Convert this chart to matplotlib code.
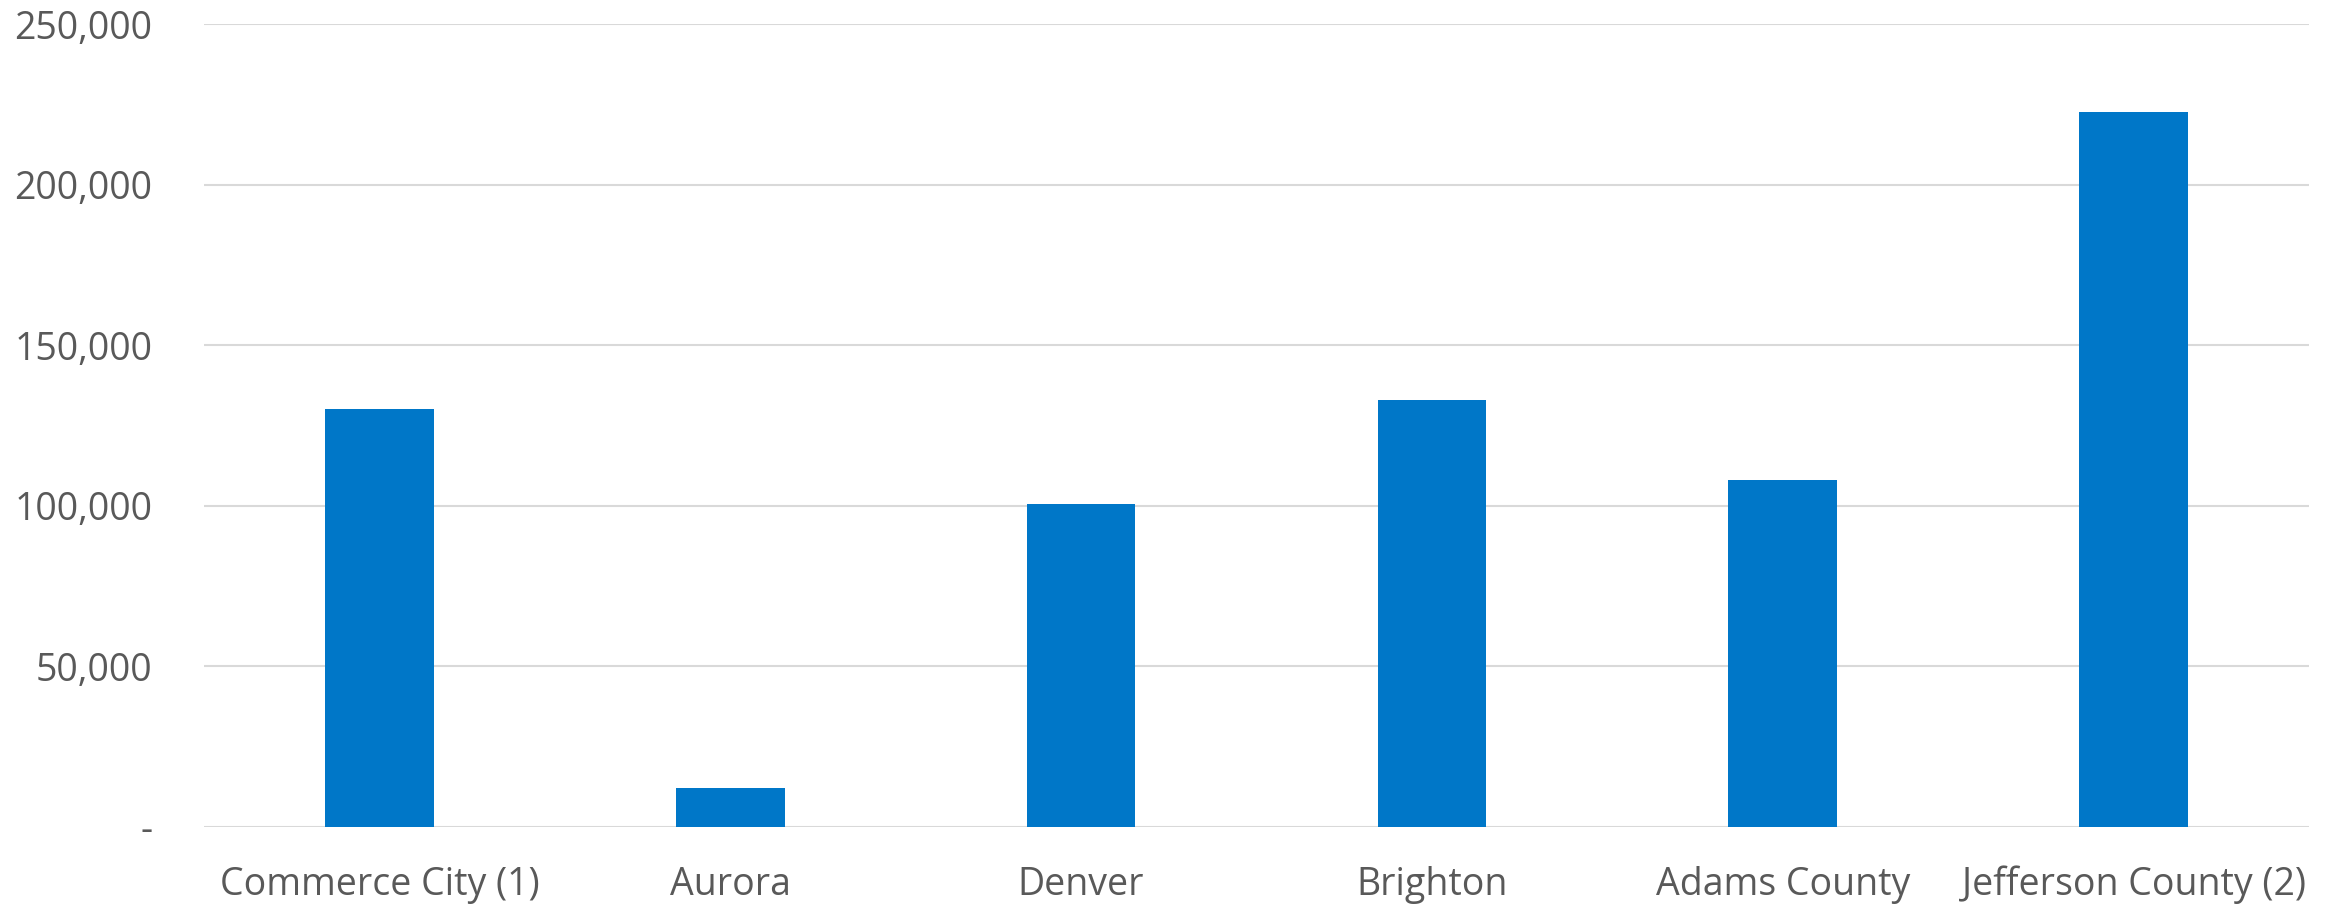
import matplotlib
matplotlib.use("Agg")
import matplotlib.pyplot as plt
from matplotlib.ticker import FuncFormatter

# values
places = ["Commerce City (1)", "Aurora", "Denver", "Brighton", "Adams County", "Jefferson County (2)"]
values = [130000, 12000, 100600, 133000, 108000, 222500]
yticks = [0, 50000, 100000, 150000, 200000, 250000]

plt.rcParams['font.family'] = ['Open Sans', 'DejaVu Sans']
grey = '#595959'

fig = plt.figure(figsize=(23.33, 9.07), dpi=100)
ax = fig.add_axes([204 / 2333, 1 - 827 / 907, (2309 - 204) / 2333, (827 - 24) / 907])

ax.bar(range(len(places)), values, width=0.31, color='#0077C8', zorder=3)

ax.set_xlim(-0.5, len(places) - 0.5)
ax.set_ylim(0, 250000)
ax.set_yticks(yticks)
ax.yaxis.set_major_formatter(FuncFormatter(lambda v, p: '-' if v == 0 else f'{int(v):,}'))
ax.set_xticks(range(len(places)))
ax.set_xticklabels(places)

ax.grid(axis='y', color='#d9d9d9', linewidth=1.5, zorder=0)
for s in ax.spines.values():
    s.set_visible(False)
ax.tick_params(axis='both', length=0, labelsize=27, labelcolor=grey)
ax.tick_params(axis='y', pad=37)
ax.tick_params(axis='x', pad=28)

fig.savefig('out.png', dpi=100)
